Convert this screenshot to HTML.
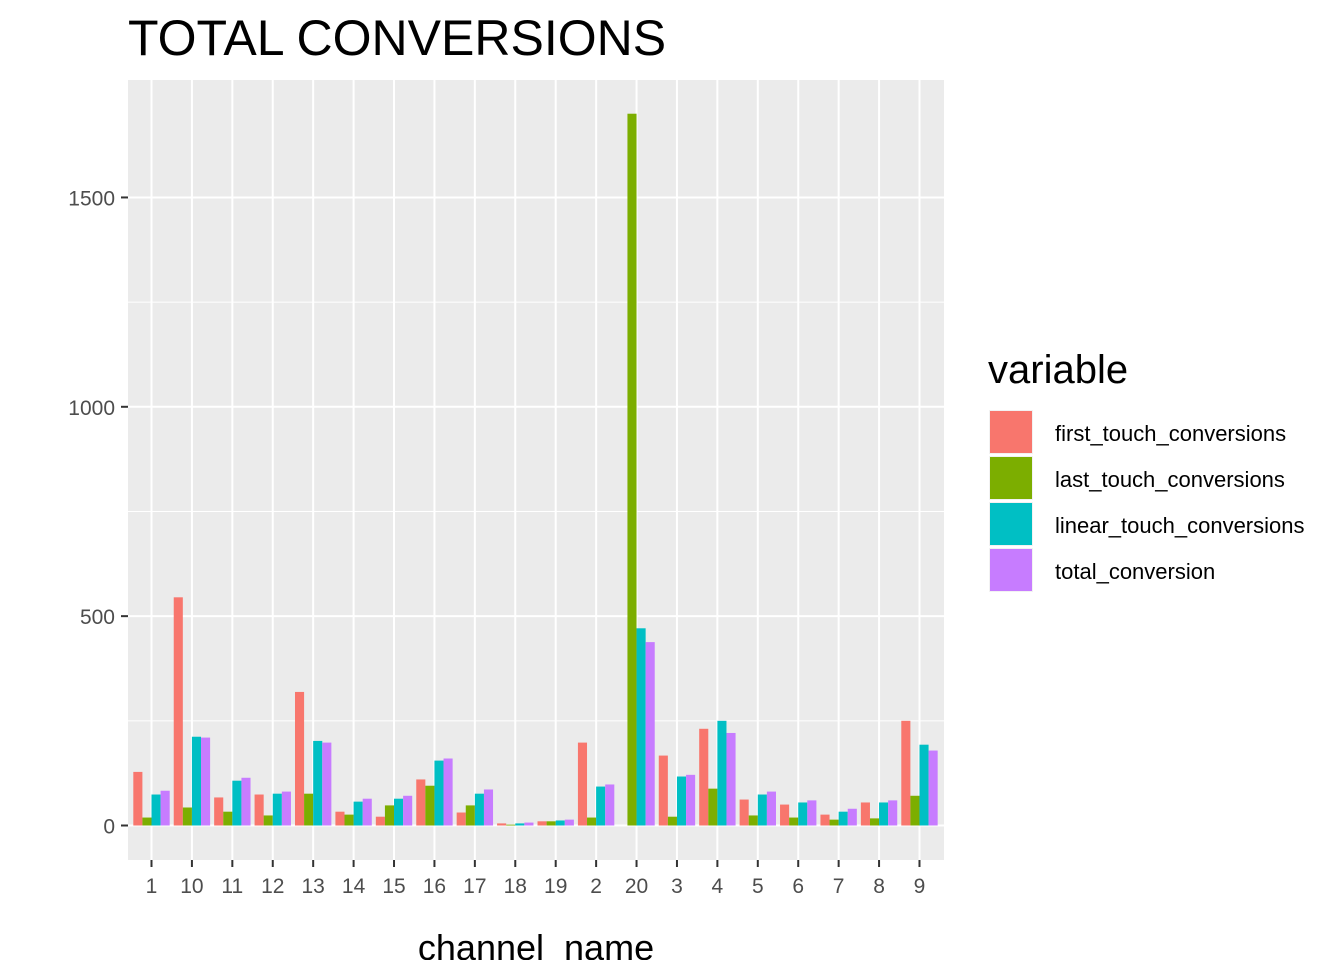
<!DOCTYPE html>
<html><head><meta charset="utf-8"><style>body{margin:0;background:#fff}svg{display:block;font-family:"Liberation Sans",Arial,sans-serif}</style></head>
<body>
<svg id="chart" width="1344" height="960" viewBox="0 0 1344 960">
<text x="128" y="55" font-size="50">TOTAL CONVERSIONS</text>
<rect x="128" y="80" width="816" height="780" fill="#ebebeb"/>
<g id="grid"></g><g id="bars"></g><g id="axes"></g>
<text x="536" y="960" font-size="36" text-anchor="middle">channel_name</text>
<text x="988" y="383" font-size="40">variable</text>
<g id="legend"></g>
</svg>
<script>
const categories=["1","10","11","12","13","14","15","16","17","18","19","2","20","3","4","5","6","7","8","9"];
const seriesNames=["first_touch_conversions","last_touch_conversions","linear_touch_conversions","total_conversion"];
const firstTouch=[128,545,67,74,319,33,21,110,31,5,10,198,0,167,231,62,50,26,55,250];
const lastTouch=[19,43,33,24,76,26,48,95,48,2,10,19,1700,21,88,24,19,14,17,71];
const linearTouch=[74,212,107,76,202,57,64,155,76,5,12,93,471,117,250,74,55,33,55,193];
const totalConv=[83,210,114,81,198,64,71,160,86,7,14,98,438,121,221,81,60,40,60,179];
const yTicks=[0,500,1000,1500];
const yMinor=[250,750,1250];
const colors=["#F8766D","#7CAE00","#00BFC4","#C77CFF"];
const NS="http://www.w3.org/2000/svg";
const y=v=>825.5-v*0.4187;
const x=i=>151.5+i*40.42;
function mk(t,a,p){const e=document.createElementNS(NS,t);for(const k in a)e.setAttribute(k,a[k]);p.appendChild(e);return e;}
const grid=document.getElementById('grid'),bars=document.getElementById('bars'),axes=document.getElementById('axes'),legend=document.getElementById('legend');
yMinor.forEach(v=>{const l=mk('line',{x1:128,x2:944,y1:y(v),y2:y(v),stroke:'#fff','stroke-width':1},grid);

});
yTicks.forEach(v=>{const l=mk('line',{x1:128,x2:944,y1:y(v),y2:y(v),stroke:'#fff','stroke-width':2},grid);


const t=mk('line',{x1:121,x2:128,y1:y(v),y2:y(v),stroke:'#333','stroke-width':2},axes);


const tx=mk('text',{x:115,y:y(v)+8,'font-size':21,fill:'#4d4d4d','text-anchor':'end'},axes);tx.textContent=v;

});
categories.forEach((c,i)=>{const l=mk('line',{x1:x(i),x2:x(i),y1:80,y2:860,stroke:'#fff','stroke-width':2},grid);


const t=mk('line',{x1:x(i),x2:x(i),y1:860,y2:867,stroke:'#333','stroke-width':2},axes);


const tx=mk('text',{x:x(i),y:893,'font-size':21,fill:'#4d4d4d','text-anchor':'middle'},axes);tx.textContent=c;

});
const series=[firstTouch,lastTouch,linearTouch,totalConv];
const bw=40.42*0.9/4;
series.forEach((s,j)=>s.forEach((v,i)=>{const x0=x(i)-40.42*0.45+j*bw;
const r=mk('rect',{x:x0,y:y(v),width:bw,height:Math.max(0,y(0)-y(v)),fill:colors[j]},bars);

}));
seriesNames.forEach((n,j)=>{const yy=410+j*46;
const g=mk('g',{},legend);


mk('rect',{x:989,y:yy,width:44,height:44,fill:'#f2f2f2'},g);
mk('rect',{x:990,y:yy+1,width:42,height:42,fill:colors[j]},g);
const t=mk('text',{x:1055,y:yy+31,'font-size':22},g);t.textContent=n;});
</script>
</body></html>
